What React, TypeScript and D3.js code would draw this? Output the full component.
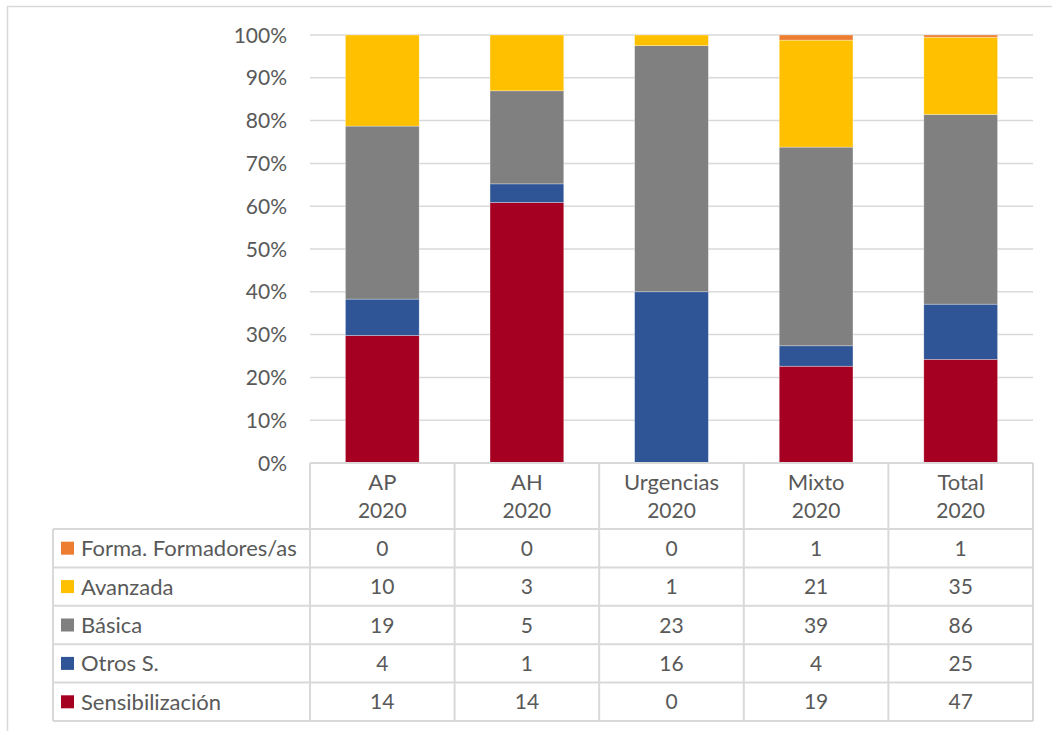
import React from "react";
import * as d3 from "d3";

const categories = ["AP\n2020", "AH\n2020", "Urgencias\n2020", "Mixto\n2020", "Total\n2020"];
const seriesNames = ["Sensibilización", "Otros S.", "Básica", "Avanzada", "Forma. Formadores/as"];
const seriesColors = ["#A50021", "#2F5597", "#808080", "#FFC000", "#ED7D31"];
const sensibilizacion = [14, 14, 0, 19, 47];
const otros = [4, 1, 16, 4, 25];
const basica = [19, 5, 23, 39, 86];
const avanzada = [10, 3, 1, 21, 35];
const formadores = [0, 0, 0, 1, 1];
const yTicks = [0, 0.1, 0.2, 0.3, 0.4, 0.5, 0.6, 0.7, 0.8, 0.9, 1];

const seriesValues = [sensibilizacion, otros, basica, avanzada, formadores];
// table rows are listed top-down in reverse order
const tableOrder = [4, 3, 2, 1, 0];

const W = 1052;
const H = 731;
const plotLeft = 310;
const plotRight = 1033;
const plotTop = 35;
const plotBottom = 463;
const headerBottom = 529;
const rowH = 38.4;
const tableLeft = 53;
const FONT = "Lato, 'Open Sans', sans-serif";
const TXT = "#595959";
const GRID = "#D9D9D9";

export default function App() {
  const x = d3.scaleBand<number>().domain(d3.range(categories.length)).range([plotLeft, plotRight]).paddingInner(0).paddingOuter(0);
  const y = d3.scaleLinear().domain([0, 1]).range([plotBottom, plotTop]);
  const table = categories.map((_, i) => {
    const o: any = {};
    seriesNames.forEach((s, k) => (o[s] = seriesValues[k][i]));
    return o;
  });
  const stack = d3.stack<any>().keys(seriesNames).offset(d3.stackOffsetExpand);
  const stacked = stack(table);
  const bw = x.bandwidth() * 0.51;
  const fsW = 22;
  const fsN = 21;

  return (
    <svg width={W} height={H} style={{ position: "absolute", left: 0, top: 0, background: "#fff" }} fontFamily={FONT}>
      <rect x={7.5} y={6.5} width={W + 10} height={H + 10} fill="#fff" stroke={GRID} strokeWidth={1.5} />
      {/* gridlines */}
      {yTicks.map((t) => (
        <line key={t} x1={plotLeft} x2={plotRight} y1={y(t)} y2={y(t)} stroke={GRID} strokeWidth={1.5} />
      ))}
      {yTicks.map((t) => (
        <text key={"l" + t} x={287} y={y(t)} dy="0.36em" textAnchor="end" fontSize={fsN} fill={TXT}>
          {d3.format(".0%")(t)}
        </text>
      ))}
      {/* bars */}
      {stacked.map((layer, k) =>
        layer.map((d, i) => {
          const cx = (x(i) as number) + x.bandwidth() / 2;
          const h = y(d[0]) - y(d[1]);
          if (h <= 0) return null;
          return (
            <rect key={k + "-" + i} x={cx - bw / 2} y={y(d[1])} width={bw} height={h} fill={seriesColors[k]} stroke="#fff" strokeOpacity={0.5} strokeWidth={0.6} />
          );
        })
      )}
      {/* table grid */}
      <g stroke={GRID} strokeWidth={2} fill="none">
        <line x1={plotLeft} x2={plotRight} y1={plotBottom} y2={plotBottom} />
        {d3.range(categories.length + 1).map((i) => {
          const xx = i < categories.length ? (x(i) as number) : plotRight;
          return <line key={"v" + i} x1={xx} x2={xx} y1={plotBottom} y2={headerBottom + rowH * 5} />;
        })}
        <line x1={tableLeft} x2={tableLeft} y1={headerBottom} y2={headerBottom + rowH * 5} />
        {d3.range(6).map((r) => (
          <line key={"h" + r} x1={tableLeft} x2={plotRight} y1={headerBottom + r * rowH} y2={headerBottom + r * rowH} />
        ))}
      </g>
      {/* header text */}
      {categories.map((c, i) => {
        const cx = (x(i) as number) + x.bandwidth() / 2;
        const lines = c.split("\n");
        return (
          <text key={"c" + i} x={cx} textAnchor="middle" fill={TXT}>
            {lines.map((ln, j) => (
              <tspan key={j} x={cx} y={489.5 + j * 28.7} fontSize={/\d/.test(ln) ? fsN : fsW}>
                {ln}
              </tspan>
            ))}
          </text>
        );
      })}
      {/* rows */}
      {tableOrder.map((k, r) => {
        const cy = headerBottom + r * rowH + rowH / 2;
        return (
          <g key={"r" + r}>
            <rect x={61} y={cy - 6.5} width={13} height={13} fill={seriesColors[k]} />
            <text x={81} y={cy} dy="0.36em" fontSize={fsW} fill={TXT}>
              {seriesNames[k]}
            </text>
            {seriesValues[k].map((v, i) => (
              <text key={i} x={(x(i) as number) + x.bandwidth() / 2} y={cy} dy="0.36em" textAnchor="middle" fontSize={fsN} fill={TXT}>
                {v}
              </text>
            ))}
          </g>
        );
      })}
    </svg>
  );
}
